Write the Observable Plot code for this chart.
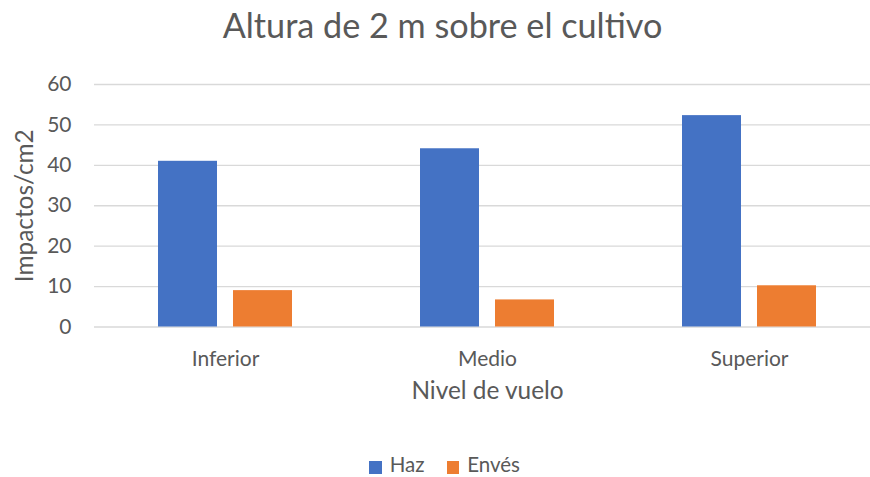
<!DOCTYPE html>
<html><head><meta charset="utf-8">
<script src="https://cdn.jsdelivr.net/npm/d3@7"></script>
<script src="https://cdn.jsdelivr.net/npm/@observablehq/plot@0.6"></script>
<style>
body{margin:0;background:#fff;font-family:Lato,sans-serif;width:870px;height:477px;overflow:hidden;}
#title{height:60px;box-sizing:border-box;padding-top:8px;padding-left:15px;text-align:center;font-size:34.2px;line-height:1;color:#595959;white-space:nowrap;}
#chart{height:370px;}
#chart svg{display:block;}
#legend{height:47px;box-sizing:border-box;padding-top:22px;padding-left:19px;display:flex;justify-content:center;align-items:flex-start;font-size:20.5px;color:#595959;}
.item{display:flex;align-items:center;margin:0 11px;height:24.6px;}
.item span{line-height:normal;}
.sw{width:12.7px;height:12.7px;margin-right:8px;position:relative;top:3.5px;}
</style>
</head><body>
<div id="title">Altura de 2 m sobre el cultivo</div>
<div id="chart"></div>
<div id="legend"></div>
<script>
const niveles = ["Inferior", "Medio", "Superior"];
const series = ["Haz", "Envés"];
const haz = [41.0, 44.1, 52.3];
const enves = [9.0, 6.7, 10.2];
const colores = ["#4472C4", "#ED7D31"];
const yTicks = [0, 10, 20, 30, 40, 50, 60];

const data = niveles.flatMap((n, i) => [
  {nivel: n, serie: series[0], valor: haz[i]},
  {nivel: n, serie: series[1], valor: enves[i]}
]);

const chart = Plot.plot({
  width: 870,
  height: 370,
  marginLeft: 93,
  marginRight: 0,
  marginTop: 24,
  marginBottom: 103.5,
  style: {fontFamily: "Lato, sans-serif", fontSize: "21px", color: "#595959", background: "white"},
  fx: {domain: niveles, range: [93.4, 881], padding: 0},
  x: {domain: series, paddingInner: 0.2133, paddingOuter: 0.853, axis: null},
  y: {domain: [0, 60]},
  color: {domain: series, range: colores},
  marks: [
    Plot.gridY(yTicks, {stroke: "#d9d9d9", strokeOpacity: 1, strokeWidth: 1.3}),
    Plot.barY(data, {fx: "nivel", x: "serie", y: "valor", fill: "serie"}),
    Plot.axisY(yTicks, {tickSize: 0, tickPadding: 23, label: null, fontSize: 21, fill: "#595959"}),
    Plot.axisY([], {tickSize: 0, label: "Impactos/cm2", labelArrow: false, labelAnchor: "center", labelOffset: 79, fontSize: 24.4, fill: "#595959"}),
    Plot.axisFx({anchor: "bottom", tickSize: 0, tickPadding: 24, label: null, fontSize: 21, fill: "#595959"}),
    Plot.axisFx({anchor: "bottom", tickSize: 0, tickFormat: () => "", label: "Nivel de vuelo", labelArrow: false, labelAnchor: "center", labelOffset: 72, fontSize: 24.4, fill: "#595959"})
  ]
});
document.getElementById("chart").appendChild(chart);

const legend = document.getElementById("legend");
series.forEach((s, i) => {
  const it = document.createElement("div");
  it.className = "item";
  const sw = document.createElement("div");
  sw.className = "sw";
  sw.style.background = colores[i];
  const t = document.createElement("span");
  t.textContent = s;
  it.appendChild(sw); it.appendChild(t);
  legend.appendChild(it);
});
</script>
</body></html>
